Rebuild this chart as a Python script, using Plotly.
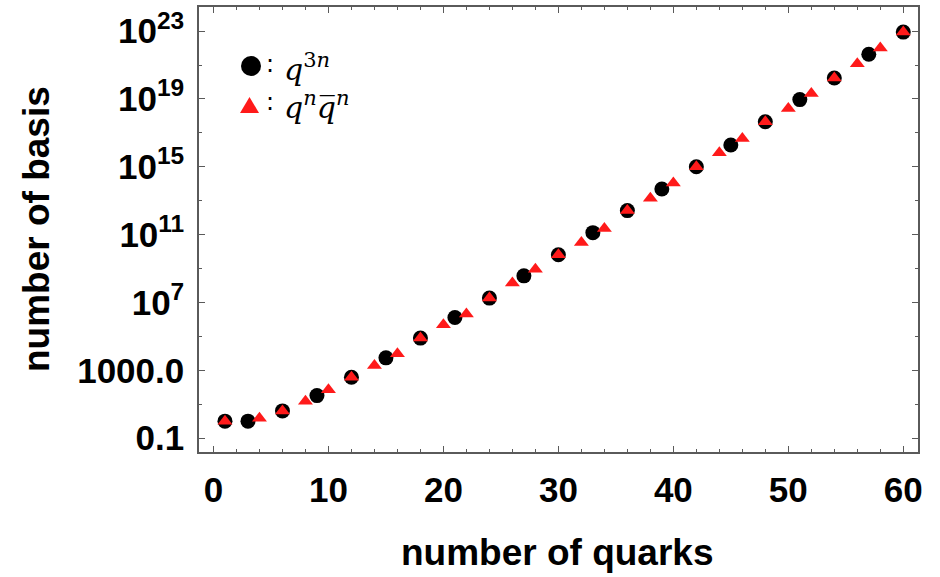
import plotly.graph_objects as go

# number of quarks vs. number of colour-singlet basis states
quarks_q3n = [1, 3, 6, 9, 12, 15, 18, 21, 24, 27, 30, 33, 36, 39, 42, 45, 48, 51, 54, 57, 60]
basis_q3n = [1, 1, 4, 32, 390, 5.4e3, 7.9e4, 1.3e6, 1.8e7, 3.7e8, 6.5e9, 1.3e11, 2.6e12,
             4.9e13, 1.0e15, 1.9e16, 4.5e17, 9.1e18, 1.7e20, 4.3e21, 8.7e22]

quarks_qqbar = [1, 4, 6, 8, 10, 12, 14, 16, 18, 20, 22, 24, 26, 28, 30, 32, 34, 36, 38, 40,
                42, 44, 46, 48, 50, 52, 54, 56, 58, 60]
basis_qqbar = [1, 1.5, 4, 15, 72, 390, 1.9e3, 9.5e3, 7.9e4, 4.9e5, 2.1e6, 1.8e7, 1.4e8, 9.1e8,
               6.5e9, 3.4e10, 2.3e11, 2.6e12, 1.4e13, 1.1e14, 1.0e15, 6.6e15, 4.7e16, 4.5e17,
               2.7e18, 2.1e19, 1.7e20, 1.2e21, 1.0e22, 8.7e22]

ytick_vals = [1e-1, 1e3, 1e7, 1e11, 1e15, 1e19, 1e23]
ytick_text = ["0.1", "1000.0", "10<sup>7</sup>", "10<sup>11</sup>", "10<sup>15</sup>",
              "10<sup>19</sup>", "10<sup>23</sup>"]
yminor_vals = [1e1, 1e5, 1e9, 1e13, 1e17, 1e21]

W, H = 940, 577
L, R, T, B = 199, 22, 7, 125
PW, PH = W - L - R, H - T - B

frame = "#5a5a5a"
tick_font = dict(family="Liberation Sans, Arial, sans-serif", size=35, color="black", weight="bold")
math_font = dict(family="DejaVu Serif, Liberation Serif, serif", size=30, color="black")
colon_font = dict(family="DejaVu Sans, sans-serif", size=24, color="black")

fig = go.Figure()
fig.add_trace(go.Scatter(
    x=quarks_q3n, y=basis_q3n, mode="markers", name="q3n",
    marker=dict(symbol="circle", size=15, color="black"), showlegend=False))
fig.add_trace(go.Scatter(
    x=quarks_qqbar, y=basis_qqbar, mode="markers", name="qnqbarn",
    marker=dict(symbol="triangle-up", size=13, color="#ff1a1a"), showlegend=False))


def px_x(p):
    return (p - L) / PW


def px_y(p):
    return (H - B - p) / PH


# legend keys
fig.add_shape(type="circle", xref="paper", yref="paper",
              x0=px_x(241), x1=px_x(261), y0=px_y(76), y1=px_y(56),
              fillcolor="black", line=dict(width=0))
fig.add_shape(type="path", xref="paper", yref="paper",
              path=f"M {px_x(240)} {px_y(113)} L {px_x(259)} {px_y(113)} L {px_x(249.5)} {px_y(97)} Z",
              fillcolor="#ff1a1a", line=dict(width=0))
fig.add_annotation(xref="paper", yref="paper", x=px_x(264), y=px_y(64), xanchor="left", yanchor="middle",
                   text=":", showarrow=False, font=colon_font)
fig.add_annotation(xref="paper", yref="paper", x=px_x(264), y=px_y(102), xanchor="left", yanchor="middle",
                   text=":", showarrow=False, font=colon_font)
fig.add_annotation(xref="paper", yref="paper", x=px_x(282), y=px_y(67), xanchor="left", yanchor="middle",
                   text="<i>q</i><sup>3<i>n</i></sup>", showarrow=False, font=math_font)
fig.add_annotation(xref="paper", yref="paper", x=px_x(282), y=px_y(105), xanchor="left", yanchor="middle",
                   text="<i>q</i><sup><i>n</i></sup><i>q\u0305</i><sup><i>n</i></sup>",
                   showarrow=False, font=math_font)

# axis titles
title_font = dict(family="Liberation Sans, Arial, sans-serif", size=37, color="black", weight="bold")
fig.add_annotation(xref="paper", yref="paper", x=px_x(557), y=px_y(552), xanchor="center", yanchor="middle",
                   text="number of quarks", showarrow=False, font=title_font)
fig.add_annotation(xref="paper", yref="paper", x=px_x(37), y=px_y(229), xanchor="center", yanchor="middle",
                   text="number of basis", textangle=-90, showarrow=False, font=title_font)

fig.update_xaxes(
    range=[-1.26, 61.28], showgrid=False, zeroline=False,
    showline=True, linecolor=frame, linewidth=1.5, mirror="ticks",
    ticks="inside", ticklen=6, tickwidth=1.3, tickcolor=frame,
    tick0=0, dtick=10, tickfont=tick_font, ticklabelstandoff=6,
    minor=dict(ticks="inside", ticklen=3.5, tickwidth=1.1, tickcolor=frame, dtick=2, showgrid=False),
)
fig.update_yaxes(
    type="log", range=[-1.82, 24.42], showgrid=False, zeroline=False,
    showline=True, linecolor=frame, linewidth=1.5, mirror="ticks",
    ticks="inside", ticklen=6, tickwidth=1.3, tickcolor=frame,
    tickmode="array", tickvals=ytick_vals, ticktext=ytick_text,
    tickfont=tick_font, ticklabelstandoff=6,
    minor=dict(ticks="inside", ticklen=3.5, tickwidth=1.1, tickcolor=frame,
               tickmode="array", tickvals=yminor_vals, showgrid=False),
)
fig.update_layout(
    width=W, height=H, margin=dict(l=L, r=R, t=T, b=B, autoexpand=False),
    plot_bgcolor="white", paper_bgcolor="white", showlegend=False,
)

fig.write_html("out.html")
